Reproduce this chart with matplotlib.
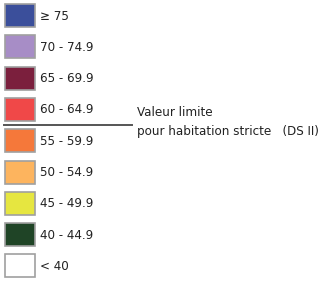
import matplotlib.pyplot as plt
from matplotlib.patches import Rectangle

labels = ["≥ 75", "70 - 74.9", "65 - 69.9", "60 - 64.9", "55 - 59.9",
          "50 - 54.9", "45 - 49.9", "40 - 44.9", "< 40"]
colors = ["#3b4f9b", "#a78dc6", "#7b1f3d", "#f04848", "#f5783a",
          "#fdb45e", "#e6e640", "#1f4426", "#ffffff"]
limit_text = ["Valeur limite", "pour habitation stricte   (DS II)"]

plt.rcParams['font.family'] = ['DejaVu Sans']
plt.rcParams['font.stretch'] = 'condensed'

fig = plt.figure(figsize=(3.33, 2.82), dpi=100)
ax = fig.add_axes([0, 0, 1, 1])
ax.set_xlim(0, 333)
ax.set_ylim(282, 0)
ax.axis("off")

step = 31.3
for i, (lab, col) in enumerate(zip(labels, colors)):
    y0 = 4 + i * step
    ax.add_patch(Rectangle((5, y0), 30, 23, facecolor=col,
                           edgecolor="#a0a0a0", linewidth=1.2))
    ax.text(40, y0 + 12, lab, fontsize=9.5, va="center", ha="left", color="#222222")

ax.plot([4, 132], [124.5, 124.5], color="#555555", linewidth=1.4)
ax.text(137, 112, limit_text[0], fontsize=9.5, va="center", ha="left", color="#222222")
ax.text(137, 131, limit_text[1], fontsize=9.5, va="center", ha="left", color="#222222")

fig.savefig("out.png", dpi=100)
